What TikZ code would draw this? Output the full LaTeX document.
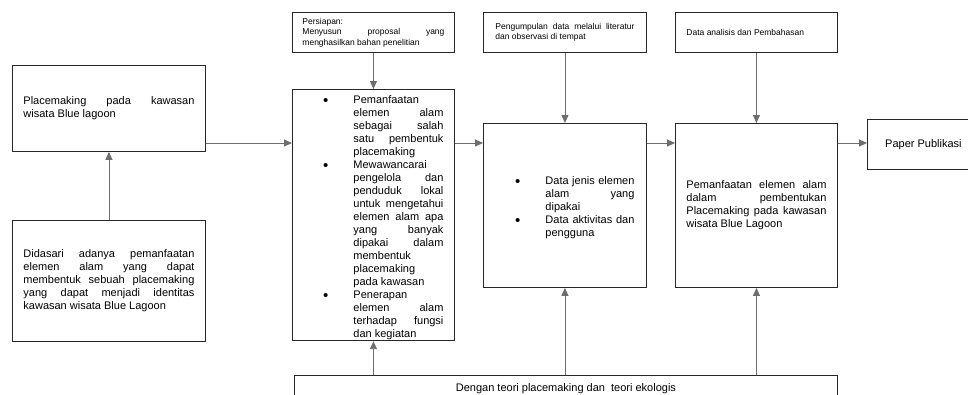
\documentclass[tikz,border=0pt]{standalone}
\usepackage{fontspec}
\setmainfont{Liberation Sans}
\usetikzlibrary{arrows.meta}
\hyphenpenalty=10000
\exhyphenpenalty=10000
\definecolor{tepi}{RGB}{40,40,40}
\definecolor{garis}{RGB}{110,110,110}
\newcommand{\titikbesar}{\raisebox{-1.6pt}{\fontsize{15}{15}\selectfont\textbullet}}
\newenvironment{poin}{\begin{list}{\titikbesar}{%
  \setlength\leftmargin{50pt}\setlength\labelwidth{20pt}\setlength\labelsep{25pt}%
  \setlength\itemsep{0pt}\setlength\parsep{0pt}\setlength\topsep{0pt}\setlength\partopsep{0pt}}}%
  {\end{list}}
\tikzset{
  kotak/.style={draw=tepi, line width=0.9pt, anchor=north west, inner ysep=1pt,
    inner xsep=11pt, align=justify, font=\fontsize{11}{13}\selectfont},
  kecil/.style={kotak, font=\fontsize{8.5}{10.5}\selectfont},
  panah/.style={draw=garis, line width=0.9pt, -{Triangle[length=8pt,width=7pt]}}
}
\begin{document}
\begin{tikzpicture}[x=1pt,y=-1pt]
      \clip (0,0) rectangle (968,394);
      \fill[white] (0,0) rectangle (968,394);
      \path
        (12,65) node[kotak, minimum width=193pt, minimum height=86pt, text width=171pt] (pm)
          {Placemaking pada kawasan \linebreak wisata Blue lagoon}
        (12,220) node[kotak, minimum width=193pt, minimum height=121pt, text width=171pt] (dasar)
          {Didasari adanya pemanfaatan \linebreak elemen alam yang dapat \linebreak
           membentuk sebuah placemaking \linebreak yang dapat menjadi identitas \linebreak
           kawasan wisata Blue Lagoon}
        (292,12) node[kecil, minimum width=162pt, minimum height=40pt, inner xsep=10pt, text width=142pt] (siap)
          {Persiapan:\\ Menyusun proposal yang \linebreak menghasilkan bahan penelitian}
        (292,89) node[kotak, minimum width=162pt, minimum height=248pt, text width=140pt] (metode)
          {\begin{poin}
             \item Pemanfaatan \linebreak elemen alam \linebreak sebagai salah \linebreak
               satu pembentuk \linebreak placemaking
             \item Mewawancarai \linebreak pengelola dan \linebreak penduduk lokal \linebreak
               untuk mengetahui \linebreak elemen alam apa \linebreak yang banyak \linebreak
               dipakai dalam \linebreak membentuk \linebreak placemaking \linebreak pada kawasan
             \item Penerapan \linebreak elemen alam \linebreak terhadap fungsi \linebreak dan kegiatan
           \end{poin}}
        (483,12) node[kecil, minimum width=163pt, minimum height=40pt, inner xsep=12pt, text width=139pt] (kumpul)
          {Pengumpulan data melalui literatur \linebreak dan observasi di tempat}
        (483,123) node[kotak, minimum width=163pt, minimum height=164pt, inner xsep=12pt, text width=139pt] (data)
          {\begin{poin}
             \item Data jenis elemen \linebreak alam yang \linebreak dipakai
             \item Data aktivitas dan \linebreak pengguna
           \end{poin}}
        (675,12) node[kecil, minimum width=162pt, minimum height=40pt, text width=140pt] (analisis)
          {Data analisis dan Pembahasan}
        (675,123) node[kotak, minimum width=162pt, minimum height=164pt, text width=140pt] (hasil)
          {Pemanfaatan elemen alam \linebreak dalam pembentukan \linebreak
           Placemaking pada kawasan \linebreak wisata Blue Lagoon}
        (867,119) node[kotak, align=center, minimum width=112pt, minimum height=50pt] (paper)
          {Paper Publikasi}
        (294,375) node[kotak, align=center, minimum width=543pt, minimum height=26pt] (teori)
          {Dengan teori placemaking dan\ \ teori ekologis};
      \coordinate (jalur) at (0,143);
      \begin{scope}[panah]
        \draw (dasar.north) -- (pm.south);
        \draw (pm.east |- jalur) -- (metode.west |- jalur);
        \draw (siap.south) -- (metode.north);
        \draw (teori.north -| metode) -- (metode.south);
        \draw (metode.east |- jalur) -- (data.west |- jalur);
        \draw (kumpul.south) -- (data.north);
        \draw (teori.north -| data) -- (data.south);
        \draw (data.east |- jalur) -- (hasil.west |- jalur);
        \draw (analisis.south) -- (hasil.north);
        \draw (teori.north -| hasil) -- (hasil.south);
        \draw (hasil.east |- jalur) -- (paper.west |- jalur);
      \end{scope}
    \end{tikzpicture}
\end{document}
